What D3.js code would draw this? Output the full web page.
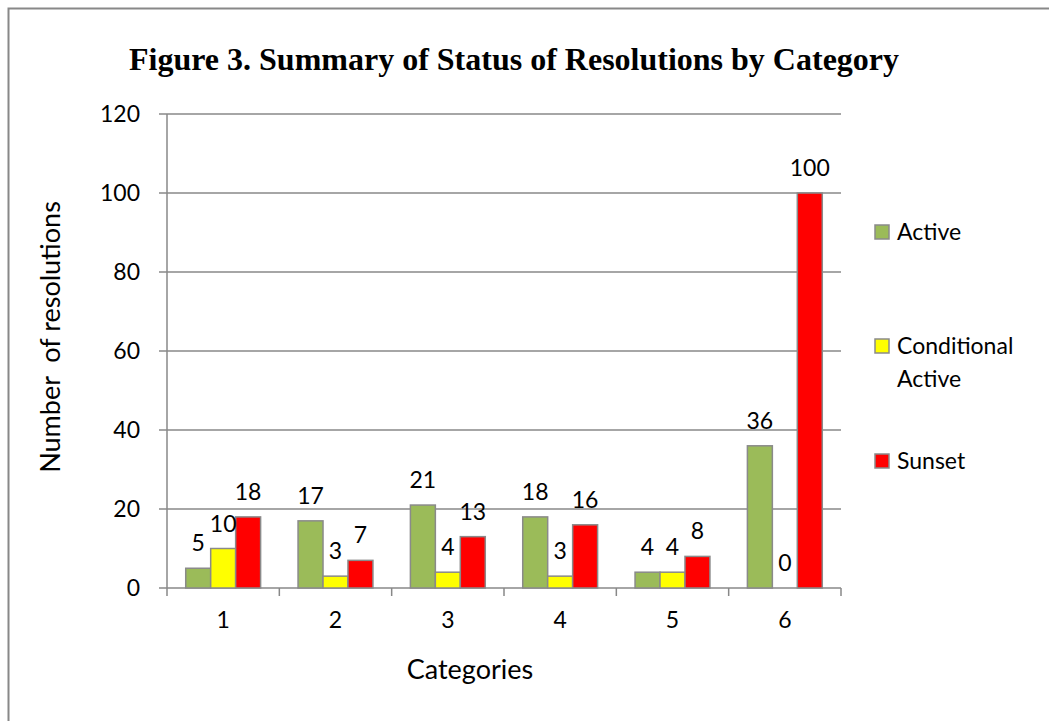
<!DOCTYPE html>
<meta charset="utf-8">
<script src="https://d3js.org/d3.v7.min.js"></script>
<style>
  body { margin: 0; background: #fff; }
  text { font-family: Lato, "Open Sans", sans-serif; fill: #000; }
</style>
<div id="chart"></div>
<script>
// data
var categories = ["1", "2", "3", "4", "5", "6"];
var seriesNames = ["Active", "Conditional Active", "Sunset"];
var active = [5, 17, 21, 18, 4, 36];
var conditional = [10, 3, 4, 3, 4, 0];
var sunset = [18, 7, 13, 16, 8, 100];
var yTicks = [0, 20, 40, 60, 80, 100, 120];
var colors = ["#9bbb59", "#ffff00", "#ff0000"];

var W = 1049, H = 721;
var margin = {top: 114, left: 167, right: 208, bottom: 133};
var width = W - margin.left - margin.right;
var height = H - margin.top - margin.bottom;

var svg = d3.select("#chart").append("svg")
    .attr("width", W)
    .attr("height", H);

// outer frame (top and left visible)
svg.append("path")
    .attr("d", "M8.5," + H + "V8.5H" + W)
    .attr("fill", "none")
    .attr("stroke", "#888")
    .attr("stroke-width", 2);

svg.append("text")
    .attr("x", 514)
    .attr("y", 70)
    .attr("text-anchor", "middle")
    .style("font-family", "'Liberation Serif', 'Times New Roman', serif")
    .style("font-weight", "bold")
    .style("font-size", "32px")
    .text("Figure 3. Summary of Status of Resolutions by Category");

var g = svg.append("g")
    .attr("transform", "translate(" + margin.left + "," + margin.top + ")");

var x0 = d3.scaleBand().domain(categories).range([0, width]).paddingInner(0).paddingOuter(0);
var x1 = d3.scaleBand().domain(d3.range(3)).range([x0.bandwidth() * 0.1667, x0.bandwidth() * 0.8333]).padding(0);
var y = d3.scaleLinear().domain([0, 120]).range([height, 0]);

// gridlines
g.selectAll(".grid").data(yTicks).enter().append("line")
    .attr("x1", -8).attr("x2", width)
    .attr("y1", function(d) { return y(d); })
    .attr("y2", function(d) { return y(d); })
    .attr("stroke", "#888").attr("stroke-width", 1.5);

// y axis line
g.append("line")
    .attr("x1", 0).attr("x2", 0).attr("y1", 0).attr("y2", height)
    .attr("stroke", "#888").attr("stroke-width", 1.5);

// x category ticks
g.selectAll(".xtick").data(d3.range(categories.length + 1)).enter().append("line")
    .attr("x1", function(i) { return i * x0.step(); })
    .attr("x2", function(i) { return i * x0.step(); })
    .attr("y1", height).attr("y2", height + 8)
    .attr("stroke", "#888").attr("stroke-width", 1.5);

// y tick labels
g.selectAll(".ylab").data(yTicks).enter().append("text")
    .attr("x", -27)
    .attr("y", function(d) { return y(d); })
    .attr("dy", "0.35em")
    .attr("text-anchor", "end")
    .style("font-size", "23px")
    .text(function(d) { return d; });

// x tick labels
g.selectAll(".xlab").data(categories).enter().append("text")
    .attr("x", function(d) { return x0(d) + x0.bandwidth() / 2; })
    .attr("y", height + 40)
    .attr("text-anchor", "middle")
    .style("font-size", "23px")
    .text(function(d) { return d; });

var series = [active, conditional, sunset];
var rows = [];
series.forEach(function(vals, s) {
  vals.forEach(function(v, i) { rows.push({s: s, cat: categories[i], v: v}); });
});

g.selectAll(".bar").data(rows.filter(function(d) { return d.v > 0; })).enter().append("rect")
    .attr("x", function(d) { return x0(d.cat) + x1(d.s); })
    .attr("y", function(d) { return y(d.v); })
    .attr("width", x1.bandwidth())
    .attr("height", function(d) { return height - y(d.v); })
    .attr("fill", function(d) { return colors[d.s]; })
    .attr("stroke", "#8a8a8a")
    .attr("stroke-width", 1.5);

g.selectAll(".val").data(rows).enter().append("text")
    .attr("x", function(d) { return x0(d.cat) + x1(d.s) + x1.bandwidth() / 2; })
    .attr("y", function(d) { return y(d.v) - 17; })
    .attr("text-anchor", "middle")
    .style("font-size", "23px")
    .text(function(d) { return d.v; });

// axis titles
svg.append("text")
    .attr("transform", "translate(60,337) rotate(-90)")
    .attr("text-anchor", "middle")
    .style("font-size", "27px")
    .style("white-space", "pre")
    .text("Number  of resolutions");

svg.append("text")
    .attr("x", 470)
    .attr("y", 679)
    .attr("text-anchor", "middle")
    .style("font-size", "27px")
    .text("Categories");

// legend
var legendY = [232, 346, 461];
var leg = svg.selectAll(".leg").data(seriesNames).enter().append("g")
    .attr("transform", function(d, i) { return "translate(875," + legendY[i] + ")"; });
leg.append("rect")
    .attr("x", 0).attr("y", -7).attr("width", 14).attr("height", 14)
    .attr("fill", function(d, i) { return colors[i]; })
    .attr("stroke", "#8a8a8a").attr("stroke-width", 1.5);
leg.each(function(d) {
  var words = d === "Conditional Active" ? ["Conditional", "Active"] : [d];
  var t = d3.select(this).append("text")
      .attr("x", 22).attr("y", 0)
      .style("font-size", "23px");
  words.forEach(function(w, j) {
    t.append("tspan").attr("x", 22).attr("dy", j === 0 ? "0.35em" : "1.45em").text(w);
  });
});
</script>
